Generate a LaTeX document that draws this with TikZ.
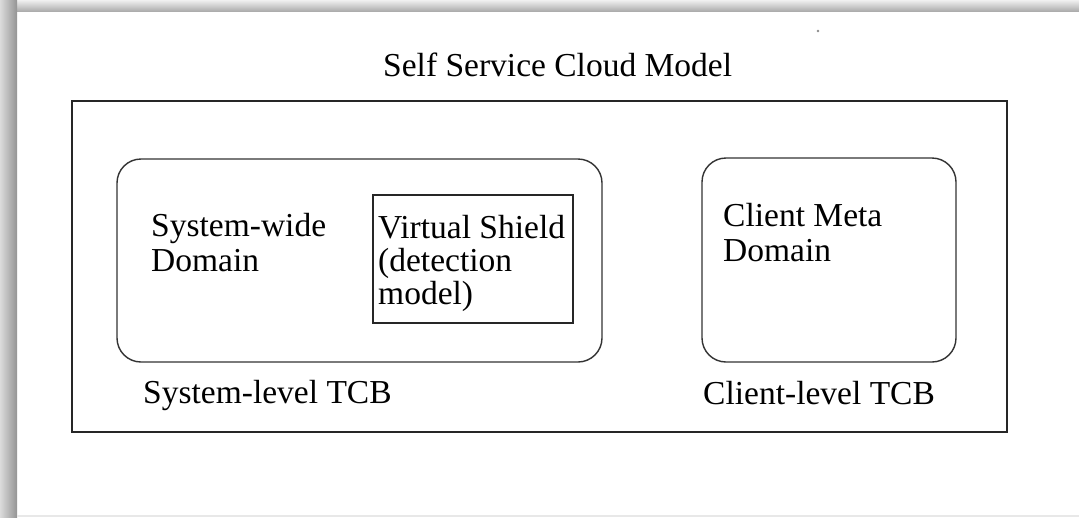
\documentclass[tikz,border=0pt]{standalone}
\usepackage{fontspec}
\setmainfont{Liberation Serif}
\begin{document}
\begin{tikzpicture}[x=1pt,y=-1pt,
  lbl/.style={inner sep=0pt, anchor=base west, font=\fontsize{33.5}{35}\selectfont, text=black},
  outerbox/.style={draw=black!85, line width=2pt, rectangle, inner sep=0pt},
  roundbox/.style={draw=black!80, line width=1.4pt, rectangle, rounded corners=24pt, inner sep=0pt},
  plainbox/.style={draw=black!85, line width=1.4pt, rectangle, inner sep=0pt}]
\useasboundingbox (0,0) rectangle (1079,517);
\fill[white] (0,0) rectangle (1079,517);
% page shadow
\shade[top color=black!6, bottom color=black!32] (0,0) rectangle (1079,11);
\shade[left color=black!14, right color=black!42] (0,0) rectangle (17,517);
\fill[black!9] (17,515) rectangle (1079,517);
\fill[black!45] (818,31) circle (1.3);
% boxes
\node[outerbox, minimum width=935pt, minimum height=331pt] (cloud) at (539.5,266.5) {};
\node[roundbox, minimum width=485pt, minimum height=203pt] (sysdom) at (359.5,260.5) {};
\node[plainbox, minimum width=200pt, minimum height=128pt] (shield) at (473,259) {};
\node[roundbox, minimum width=254pt, minimum height=204pt] (clidom) at (829,260) {};
% texts
\node[lbl] (title) at (383,76) {Self Service Cloud Model};
\node[lbl] (swd) at (151,236) {\begin{tabular}[t]{@{}l@{}}System-wide\\Domain\end{tabular}};
\node[lbl] (vs) at (378,238) {\begin{tabular}[t]{@{}l@{}}Virtual Shield\\[-2pt](detection\\[-2pt]model)\end{tabular}};
\node[lbl] (cmd) at (723,226) {\begin{tabular}[t]{@{}l@{}}Client Meta\\Domain\end{tabular}};
\node[lbl] (stcb) at (143,403) {System-level TCB};
\node[lbl] (ctcb) at (703,404) {Client-level TCB};
\end{tikzpicture}
\end{document}
